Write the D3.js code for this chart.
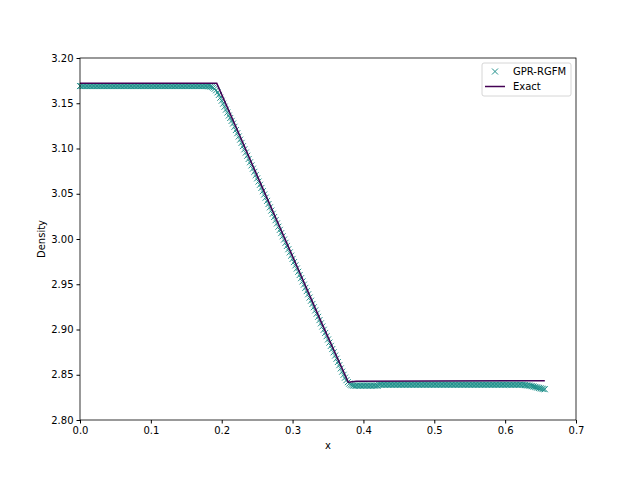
<!DOCTYPE html>
<html><head><meta charset="utf-8">
<script src="https://cdn.jsdelivr.net/npm/d3@7"></script>
<style>body{margin:0;background:#fff}svg{display:block}text{font-family:"DejaVu Sans",sans-serif}</style>
</head><body><svg id="c" width="640" height="480"></svg>
<script>
// GPR-RGFM markers (x, density)
const gprX = [
0,0.002,0.004,0.006,0.008,0.01,0.012,0.014,0.016,0.018,
0.02,0.022,0.024,0.026,0.028,0.03,0.032,0.034,0.036,0.038,
0.04,0.042,0.044,0.046,0.048,0.05,0.052,0.054,0.056,0.058,
0.06,0.062,0.064,0.066,0.068,0.07,0.072,0.074,0.076,0.078,
0.08,0.082,0.084,0.086,0.088,0.09,0.092,0.094,0.096,0.098,
0.1,0.102,0.104,0.106,0.108,0.11,0.112,0.114,0.116,0.118,
0.12,0.122,0.124,0.126,0.128,0.13,0.132,0.134,0.136,0.138,
0.14,0.142,0.144,0.146,0.148,0.15,0.152,0.154,0.156,0.158,
0.16,0.162,0.164,0.166,0.168,0.17,0.172,0.174,0.176,0.178,
0.18,0.182,0.184,0.186,0.188,0.19,0.192,0.194,0.196,0.198,
0.2,0.202,0.204,0.206,0.208,0.21,0.212,0.214,0.216,0.218,
0.22,0.222,0.224,0.226,0.228,0.23,0.232,0.234,0.236,0.238,
0.24,0.242,0.244,0.246,0.248,0.25,0.252,0.254,0.256,0.258,
0.26,0.262,0.264,0.266,0.268,0.27,0.272,0.274,0.276,0.278,
0.28,0.282,0.284,0.286,0.288,0.29,0.292,0.294,0.296,0.298,
0.3,0.302,0.304,0.306,0.308,0.31,0.312,0.314,0.316,0.318,
0.32,0.322,0.324,0.326,0.328,0.33,0.332,0.334,0.336,0.338,
0.34,0.342,0.344,0.346,0.348,0.35,0.352,0.354,0.356,0.358,
0.36,0.362,0.364,0.366,0.368,0.37,0.372,0.374,0.376,0.378,
0.38,0.382,0.384,0.386,0.388,0.39,0.392,0.394,0.396,0.398,
0.4,0.402,0.404,0.406,0.408,0.41,0.412,0.414,0.416,0.418,
0.42,0.422,0.424,0.426,0.428,0.43,0.432,0.434,0.436,0.438,
0.44,0.442,0.444,0.446,0.448,0.45,0.452,0.454,0.456,0.458,
0.46,0.462,0.464,0.466,0.468,0.47,0.472,0.474,0.476,0.478,
0.48,0.482,0.484,0.486,0.488,0.49,0.492,0.494,0.496,0.498,
0.5,0.502,0.504,0.506,0.508,0.51,0.512,0.514,0.516,0.518,
0.52,0.522,0.524,0.526,0.528,0.53,0.532,0.534,0.536,0.538,
0.54,0.542,0.544,0.546,0.548,0.55,0.552,0.554,0.556,0.558,
0.56,0.562,0.564,0.566,0.568,0.57,0.572,0.574,0.576,0.578,
0.58,0.582,0.584,0.586,0.588,0.59,0.592,0.594,0.596,0.598,
0.6,0.602,0.604,0.606,0.608,0.61,0.612,0.614,0.616,0.618,
0.62,0.622,0.624,0.626,0.628,0.63,0.632,0.634,0.636,0.638,
0.64,0.642,0.644,0.646,0.648,0.65,0.652,0.654,0.656];
const gprY = [
3.169,3.169,3.169,3.169,3.169,3.169,3.169,3.169,3.169,3.169,
3.169,3.169,3.169,3.169,3.169,3.169,3.169,3.169,3.169,3.169,
3.169,3.169,3.169,3.169,3.169,3.169,3.169,3.169,3.169,3.169,
3.169,3.169,3.169,3.169,3.169,3.169,3.169,3.169,3.169,3.169,
3.169,3.169,3.169,3.169,3.169,3.169,3.169,3.169,3.169,3.169,
3.169,3.169,3.169,3.169,3.169,3.169,3.169,3.169,3.169,3.169,
3.169,3.169,3.169,3.169,3.169,3.169,3.169,3.169,3.169,3.169,
3.169,3.169,3.169,3.169,3.169,3.169,3.169,3.169,3.169,3.169,
3.169,3.169,3.169,3.169,3.169,3.169,3.169,3.169,3.169,3.169,
3.1689,3.1688,3.1685,3.1680,3.1672,3.1660,3.1643,3.1620,3.1592,3.1561,
3.1528,3.1495,3.1462,3.1430,3.1397,3.1364,3.1337,3.1305,3.1276,3.1240,
3.1204,3.1169,3.1133,3.1098,3.1062,3.1026,3.0991,3.0955,3.0920,3.0884,
3.0848,3.0813,3.0777,3.0742,3.0706,3.0670,3.0635,3.0599,3.0564,3.0528,
3.0492,3.0457,3.0421,3.0386,3.0350,3.0314,3.0279,3.0243,3.0208,3.0172,
3.0136,3.0101,3.0065,3.0030,2.9994,2.9958,2.9923,2.9887,2.9852,2.9816,
2.9780,2.9745,2.9709,2.9674,2.9638,2.9602,2.9567,2.9531,2.9496,2.9460,
2.9424,2.9389,2.9353,2.9318,2.9282,2.9246,2.9211,2.9175,2.9140,2.9104,
2.9068,2.9033,2.8997,2.8962,2.8926,2.8890,2.8855,2.8819,2.8784,2.8748,
2.8712,2.8677,2.8641,2.8606,2.8570,2.8534,2.8500,2.8468,2.8440,2.8418,
2.8402,2.8390,2.8383,2.8380,2.8378,2.838,2.838,2.838,2.838,2.838,
2.838,2.838,2.838,2.838,2.838,2.838,2.838,2.838,2.838,2.838,
2.838,2.839,2.839,2.839,2.839,2.839,2.839,2.839,2.839,2.839,
2.839,2.839,2.839,2.839,2.839,2.839,2.839,2.839,2.839,2.839,
2.839,2.839,2.839,2.839,2.839,2.839,2.839,2.839,2.839,2.839,
2.839,2.839,2.839,2.839,2.839,2.839,2.839,2.839,2.839,2.839,
2.839,2.839,2.839,2.839,2.839,2.839,2.839,2.839,2.839,2.839,
2.839,2.839,2.839,2.839,2.839,2.839,2.839,2.839,2.839,2.839,
2.839,2.839,2.839,2.839,2.839,2.839,2.839,2.839,2.839,2.839,
2.839,2.839,2.839,2.839,2.839,2.839,2.839,2.839,2.839,2.839,
2.839,2.839,2.839,2.839,2.839,2.839,2.839,2.839,2.839,2.839,
2.839,2.839,2.839,2.839,2.839,2.839,2.839,2.839,2.839,2.839,
2.839,2.839,2.839,2.8388,2.8386,2.8384,2.8382,2.838,2.8377,2.8374,
2.837,2.8366,2.8362,2.8358,2.8354,2.835,2.8346,2.8342,2.834];
// Exact solution
const exactX = [0,0.193,0.22,0.25,0.28,0.31,0.34,0.3786,0.39,0.656];
const exactY = [3.172,3.172,3.124,3.070,3.0165,2.963,2.909,2.8417,2.8428,2.8434];
const xTicks = [0,0.1,0.2,0.3,0.4,0.5,0.6,0.7];
const yTicks = [2.80,2.85,2.90,2.95,3.00,3.05,3.10,3.15,3.20];
const seriesNames = ["GPR-RGFM","Exact"];
const colors = {gpr:"#21918c", exact:"#440154"};

const svg = d3.select("#c");
const L=80,R=576,T=58,B=420;
const x = d3.scaleLinear().domain([0,0.7]).range([L,R]);
const y = d3.scaleLinear().domain([2.80,3.20]).range([B,T]);

const g = svg.append("g");
const ms = 3;
const cross = (cx,cy)=>`M${cx-ms},${cy-ms}L${cx+ms},${cy+ms}M${cx-ms},${cy+ms}L${cx+ms},${cy-ms}`;
const gpr = gprX.map((v,i)=>[v,gprY[i]]);
g.append("g").selectAll("path").data(gpr).join("path")
  .attr("d", d=>cross(x(d[0]),y(d[1])))
  .attr("stroke",colors.gpr).attr("stroke-width",1).attr("fill","none");
const ex = exactX.map((v,i)=>[v,exactY[i]]);
g.append("path").datum(ex).attr("d", d3.line().x(d=>x(d[0])).y(d=>y(d[1])))
  .attr("fill","none").attr("stroke",colors.exact).attr("stroke-width",1.5);

const xa = svg.append("g").attr("transform",`translate(0,${B})`)
  .call(d3.axisBottom(x).tickValues(xTicks).tickFormat(d3.format(".1f")).tickSize(3.5).tickPadding(3));
const ya = svg.append("g").attr("transform",`translate(${L},0)`)
  .call(d3.axisLeft(y).tickValues(yTicks).tickFormat(d3.format(".2f")).tickSize(3.5).tickPadding(3));
[xa,ya].forEach(a=>{a.selectAll("text").attr("font-size",10).attr("fill","#000").style("font-family","DejaVu Sans");
  a.select(".domain").remove(); a.selectAll("line").attr("stroke","#000");});
svg.append("rect").attr("x",L).attr("y",T).attr("width",R-L).attr("height",B-T)
  .attr("fill","none").attr("stroke","#000").attr("stroke-width",0.8);

svg.append("text").attr("x",(L+R)/2).attr("y",449).attr("text-anchor","middle").attr("font-size",10).text("x");
svg.append("text").attr("transform",`translate(45,${(T+B)/2}) rotate(-90)`).attr("text-anchor","middle").attr("font-size",10).text("Density");

const lg = svg.append("g");
lg.append("rect").attr("x",482).attr("y",63).attr("width",89).attr("height",33).attr("rx",2)
  .attr("fill","#fff").attr("fill-opacity",0.8).attr("stroke","#ccc").attr("stroke-width",0.8);
lg.append("path").attr("d",cross(495,71.5)).attr("stroke",colors.gpr).attr("stroke-width",1);
lg.append("line").attr("x1",485).attr("x2",505).attr("y1",86.5).attr("y2",86.5).attr("stroke",colors.exact).attr("stroke-width",1.5);
lg.append("text").attr("x",513).attr("y",75).attr("font-size",10).text(seriesNames[0]);
lg.append("text").attr("x",513).attr("y",90).attr("font-size",10).text(seriesNames[1]);
</script></body></html>
